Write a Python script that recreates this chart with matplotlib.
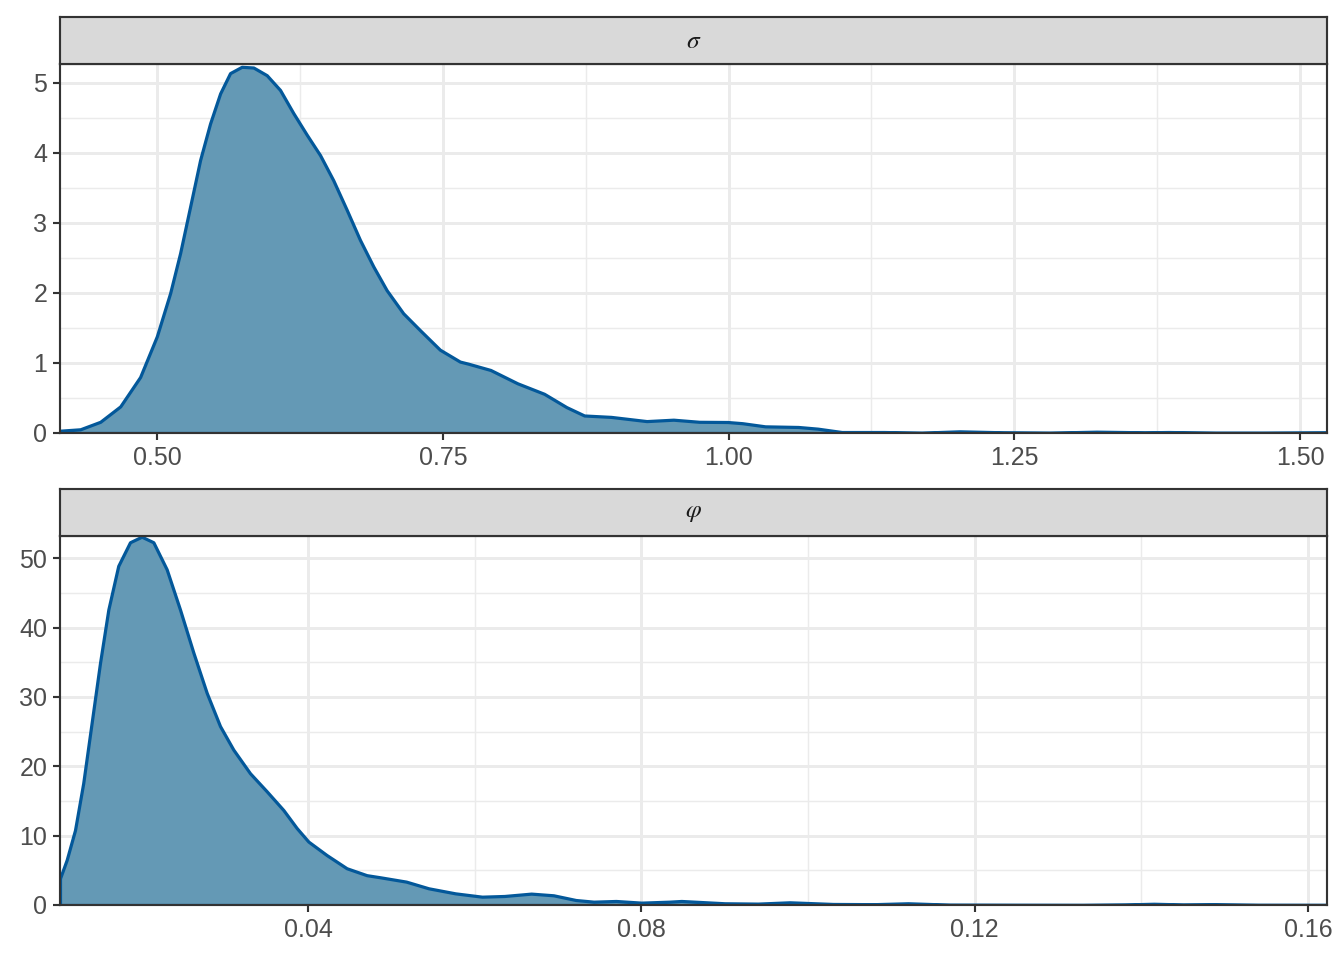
import numpy as np
import matplotlib
matplotlib.use('Agg')
import matplotlib.pyplot as plt
from matplotlib.ticker import MultipleLocator, FormatStrFormatter

plt.rcParams.update({
    'font.family': ['Liberation Sans', 'DejaVu Sans'],
    'font.size': 9.4,
    'mathtext.fontset': 'stix',
})

# density of sigma
sigma_x = [0.4152, 0.4327, 0.4502, 0.4677, 0.4851, 0.4997, 0.5114, 0.5201,
           0.5288, 0.5376, 0.5463, 0.5551, 0.5638, 0.5740, 0.5842, 0.5959,
           0.6075, 0.6191, 0.6309, 0.6425, 0.6541, 0.6658, 0.6774, 0.6891,
           0.7008, 0.7153, 0.7299, 0.7474, 0.7649, 0.7722, 0.7917, 0.8152,
           0.8386, 0.8581, 0.8737, 0.8971, 0.9283, 0.9517, 0.9743, 0.999,
           1.012, 1.032, 1.061, 1.078, 1.099, 1.136, 1.169, 1.202, 1.240,
           1.281, 1.322, 1.364, 1.385, 1.426, 1.468, 1.5236]
sigma_y = [0.033, 0.053, 0.16, 0.38, 0.80, 1.38, 2.00, 2.57,
           3.23, 3.90, 4.42, 4.85, 5.14, 5.23, 5.22, 5.11,
           4.90, 4.57, 4.26, 3.97, 3.61, 3.19, 2.76, 2.38,
           2.04, 1.71, 1.47, 1.19, 1.02, 0.99, 0.90, 0.71,
           0.56, 0.37, 0.25, 0.23, 0.17, 0.19, 0.16, 0.157,
           0.14, 0.095, 0.086, 0.062, 0.014, 0.014, 0.005, 0.024, 0.010,
           0.005, 0.019, 0.010, 0.014, 0.005, 0.005, 0.010]

# density of phi
phi_x = [0.01024, 0.01104, 0.01204, 0.01303, 0.01404, 0.01504, 0.01604, 0.01723,
         0.01864, 0.02004, 0.02144, 0.02304, 0.02464, 0.02624, 0.02784, 0.02944,
         0.03104, 0.03304, 0.03504, 0.03704, 0.03864, 0.04004, 0.04224, 0.04464,
         0.04704, 0.04864, 0.05178, 0.05446, 0.05767, 0.06088, 0.06356, 0.06678,
         0.06945, 0.07213, 0.07427, 0.07695, 0.0800, 0.08337, 0.0848, 0.0900,
         0.0940, 0.0978, 0.1030, 0.1080, 0.1120, 0.1170, 0.1250, 0.1330,
         0.1380, 0.1415, 0.1450, 0.1486, 0.1540, 0.1623]
phi_y = [3.85, 6.5, 10.8, 17.6, 26.3, 34.9, 42.6, 48.9,
         52.3, 53.1, 52.3, 48.4, 42.6, 36.4, 30.6, 25.8,
         22.4, 19.0, 16.4, 13.7, 11.1, 9.15, 7.2, 5.3,
         4.3, 4.0, 3.37, 2.41, 1.68, 1.20, 1.30, 1.64,
         1.40, 0.72, 0.48, 0.58, 0.34, 0.48, 0.58, 0.25,
         0.20, 0.39, 0.15, 0.12, 0.25, 0.05, 0.03, 0.02,
         0.08, 0.18, 0.08, 0.12, 0.03, 0.02]

panels = [
    (r'$\sigma$', sigma_x, sigma_y, (0.415, 1.5236), (0, 5.27), 0.25, 1),
    (r'$\varphi$', phi_x, phi_y, (0.01024, 0.16228), (0, 53.2), 0.04, 10),
]

fill_col = '#6499b5'
line_col = '#03589a'

fig = plt.figure(figsize=(7, 5), dpi=192)
left = 60 / 1344
width = 1267 / 1344
panel_h = 369 / 960
strip_h = 47 / 960
bottoms = [1 - 433 / 960, 1 - 905 / 960]

for (label, xs, ys, xlim, ylim, xstep, ystep), b in zip(panels, bottoms):
    ax = fig.add_axes([left, b, width, panel_h])
    ax.fill_between(xs, ys, 0, facecolor=fill_col, edgecolor=line_col,
                    linewidth=1.2, zorder=3)
    ax.set_xlim(*xlim)
    ax.set_ylim(*ylim)
    ax.xaxis.set_major_locator(MultipleLocator(xstep))
    ax.xaxis.set_minor_locator(MultipleLocator(xstep / 2))
    ax.yaxis.set_major_locator(MultipleLocator(ystep))
    ax.yaxis.set_minor_locator(MultipleLocator(ystep / 2))
    ax.xaxis.set_major_formatter(FormatStrFormatter('%.2f'))
    ax.yaxis.set_major_formatter(FormatStrFormatter('%d'))
    ax.grid(which='major', color='#ebebeb', linewidth=1.1, zorder=0)
    ax.grid(which='minor', color='#ebebeb', linewidth=0.55, zorder=0)
    ax.set_axisbelow(True)
    for s in ax.spines.values():
        s.set_color('#333333')
        s.set_linewidth(0.8)
        s.set_zorder(5)
    ax.tick_params(which='major', length=2.75, width=0.8, color='#333333',
                   labelcolor='#4d4d4d', labelsize=9.4, pad=2)
    ax.tick_params(which='minor', length=0)

    sax = fig.add_axes([left, b + panel_h, width, strip_h])
    sax.set_facecolor('#d9d9d9')
    sax.set_xticks([])
    sax.set_yticks([])
    for s in sax.spines.values():
        s.set_color('#333333')
        s.set_linewidth(0.8)
    sax.text(0.5, 0.5, label, ha='center', va='center', fontsize=9.5,
             color='#1a1a1a', transform=sax.transAxes)

fig.savefig('out.png', dpi=192)
